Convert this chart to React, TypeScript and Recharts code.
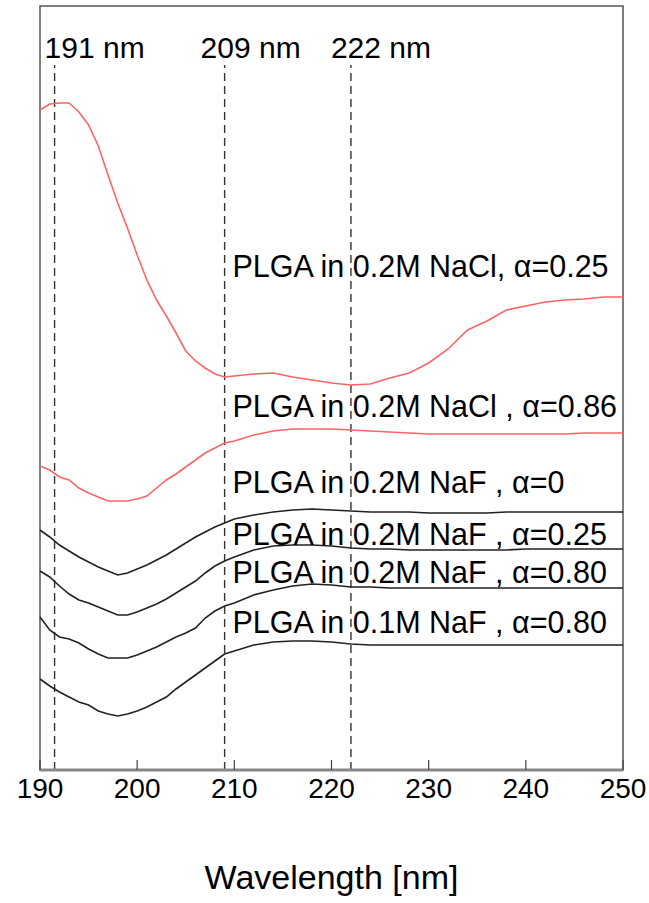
import { LineChart, Line, XAxis, YAxis, ReferenceLine, ReferenceArea, ReferenceDot } from "recharts";

// wavelength grid [nm]
const wavelengths = [
  190, 191, 192, 193, 194, 195, 196, 197, 198, 199, 200, 201, 202, 203, 204, 205, 206, 207, 208, 209, 210,
  212, 214, 216, 218, 220, 222, 224, 226, 228, 230, 232, 234, 236, 238, 240, 242, 244, 246, 248, 250,
];

// CD spectra, stacked with offsets (arb. units)
const naclA025 = [
  66.0, 66.6, 66.7, 66.7, 65.8, 64.5, 62.4, 59.5, 56.7, 54.2, 51.5, 49.0, 47.0, 45.4, 43.7, 41.9, 40.9, 40.2, 39.6, 39.3, 39.4,
  39.6, 39.7, 39.3, 39.0, 38.7, 38.5, 38.6, 39.2, 39.7, 40.7, 42.1, 44.0, 44.9, 46.0, 46.4, 46.8, 47.0, 47.1, 47.3, 47.3,
];
const naclA086 = [
  30.4, 30.0, 29.3, 29.0, 28.2, 27.7, 27.3, 26.9, 26.9, 26.9, 27.1, 27.4, 28.2, 29.0, 29.6, 30.3, 31.0, 31.7, 32.2, 32.7, 32.9,
  33.5, 33.9, 34.1, 34.1, 34.1, 34.0, 33.9, 33.8, 33.7, 33.6, 33.6, 33.6, 33.6, 33.6, 33.6, 33.6, 33.6, 33.7, 33.7, 33.7,
];
const nafA0 = [
  24.0, 23.3, 22.5, 21.9, 21.3, 20.8, 20.3, 19.9, 19.5, 19.7, 20.1, 20.5, 21.0, 21.5, 22.1, 22.7, 23.3, 23.8, 24.3, 24.7, 25.1,
  25.5, 25.8, 26.0, 26.1, 26.0, 25.9, 25.8, 25.8, 25.8, 25.7, 25.7, 25.7, 25.7, 25.8, 25.8, 25.8, 25.8, 25.8, 25.8, 25.8,
];
const nafA025 = [
  19.9, 19.3, 18.4, 17.6, 17.0, 16.7, 16.3, 15.9, 15.5, 15.5, 15.8, 16.2, 16.6, 17.1, 17.7, 18.3, 18.9, 19.7, 20.4, 20.9, 21.3,
  22.0, 22.4, 22.5, 22.5, 22.4, 22.2, 22.1, 22.1, 22.0, 22.0, 22.0, 22.0, 22.0, 22.0, 22.1, 22.1, 22.1, 22.1, 22.1, 22.1,
];
const nafA080 = [
  15.3, 14.0, 13.3, 13.1, 12.7, 12.1, 11.6, 11.2, 11.2, 11.2, 11.5, 11.9, 12.3, 12.8, 13.3, 13.7, 14.2, 15.2, 15.9, 16.4, 16.7,
  17.5, 18.0, 18.4, 18.6, 18.5, 18.3, 18.3, 18.2, 18.2, 18.2, 18.2, 18.2, 18.2, 18.2, 18.2, 18.2, 18.2, 18.2, 18.2, 18.2,
];
const naf01A080 = [
  9.1, 8.4, 7.8, 7.3, 6.8, 6.5, 5.9, 5.6, 5.4, 5.6, 5.9, 6.3, 6.8, 7.3, 8.1, 8.8, 9.5, 10.2, 10.9, 11.6, 11.9,
  12.5, 12.8, 12.9, 12.9, 12.8, 12.6, 12.5, 12.5, 12.5, 12.5, 12.5, 12.5, 12.5, 12.5, 12.5, 12.5, 12.5, 12.5, 12.5, 12.5,
];

const xTicks = [190, 200, 210, 220, 230, 240, 250];
const markers = [191.5, 209, 222];
const markerLabels = ["191 nm", "209 nm", "222 nm"];

const seriesLabels = [
  "PLGA in 0.2M NaCl, α=0.25",
  "PLGA in 0.2M NaCl , α=0.86",
  "PLGA in 0.2M NaF , α=0",
  "PLGA in 0.2M NaF , α=0.25",
  "PLGA in 0.2M NaF , α=0.80",
  "PLGA in 0.1M NaF , α=0.80",
];
// label anchor (wavelength, signal) for each series caption
const labelX = 209.8;
const labelY = [49.3, 35.3, 27.7, 22.5, 18.7, 13.7];

const data = wavelengths.map((wl, i) => ({
  wl,
  s1: naclA025[i],
  s2: naclA086[i],
  s3: nafA0[i],
  s4: nafA025[i],
  s5: nafA080[i],
  s6: naf01A080[i],
}));

const FONT = "'Liberation Sans', Arial, Helvetica, sans-serif";
const RED = "#ff6464";
const BLACK = "#222";
const Y_MAX = 76.4;

const markerDx = [-10, -24, -20];

export default function App() {
  return (
    <div style={{ position: "absolute", left: 0, top: 0, background: "#fff" }}>
      <LineChart width={649} height={903} data={data} margin={{ top: 6, right: 26, bottom: 8, left: 40 }}>
        <XAxis
          dataKey="wl"
          type="number"
          domain={[190, 250]}
          ticks={xTicks}
          interval={0}
          height={125}
          axisLine={{ stroke: "#888", strokeWidth: 3 }}
          tickLine={{ stroke: "#444", strokeWidth: 1.2 }}
          tickSize={-10}
          tickMargin={18}
          tick={{ fontSize: 28, fill: "#000", fontFamily: FONT }}
          label={{
            value: "Wavelength [nm]",
            position: "insideBottom",
            offset: 6,
            style: { fontSize: 34, fill: "#000", fontFamily: FONT },
          }}
        />
        <YAxis hide type="number" domain={[0, Y_MAX]} />
        <ReferenceArea x1={190} x2={250} y1={0} y2={Y_MAX} fill="none" stroke="#555" strokeWidth={1.5} ifOverflow="visible" />
        {markers.map((m, i) => (
          <ReferenceLine
            key={m}
            segment={[{ x: m, y: 0 }, { x: m, y: 70.5 }]}
            stroke="#333"
            strokeWidth={1.4}
            strokeDasharray="8 5"
            label={({ viewBox }: any) => (
              <text x={viewBox.x + markerDx[i]} y={viewBox.y - 7} fontSize={30} fontFamily={FONT} fill="#000">
                {markerLabels[i]}
              </text>
            )}
          />
        ))}
        <Line dataKey="s1" stroke={RED} strokeWidth={1.6} dot={false} isAnimationActive={false} type="linear" />
        <Line dataKey="s2" stroke={RED} strokeWidth={1.6} dot={false} isAnimationActive={false} type="linear" />
        <Line dataKey="s3" stroke={BLACK} strokeWidth={1.6} dot={false} isAnimationActive={false} type="linear" />
        <Line dataKey="s4" stroke={BLACK} strokeWidth={1.6} dot={false} isAnimationActive={false} type="linear" />
        <Line dataKey="s5" stroke={BLACK} strokeWidth={1.6} dot={false} isAnimationActive={false} type="linear" />
        <Line dataKey="s6" stroke={BLACK} strokeWidth={1.6} dot={false} isAnimationActive={false} type="linear" />
        {seriesLabels.map((txt, i) => (
          <ReferenceDot
            key={txt}
            x={labelX}
            y={labelY[i]}
            r={0}
            fill="none"
            stroke="none"
            ifOverflow="visible"
            label={({ viewBox }: any) => (
              <text x={viewBox.x} y={viewBox.y} fontSize={30.5} fontFamily={FONT} fill="#000">
                {txt}
              </text>
            )}
          />
        ))}
      </LineChart>
    </div>
  );
}
